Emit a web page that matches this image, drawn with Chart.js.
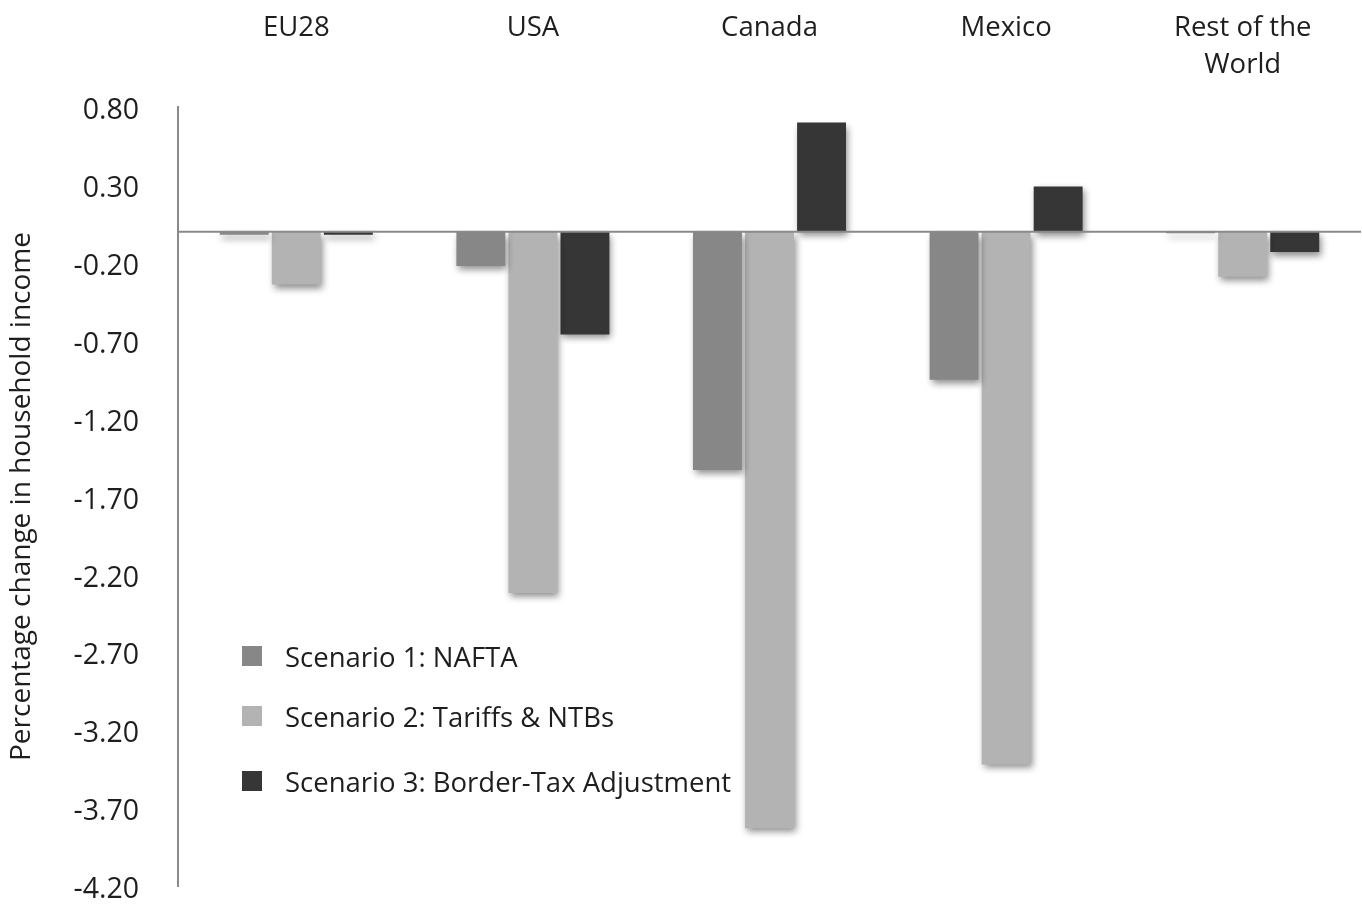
<!DOCTYPE html>
<html lang="en">
<head>
    <meta charset="UTF-8">
    <title>Percentage change in household income</title>
    <script src="https://cdn.jsdelivr.net/npm/chart.js"></script>
    <style>
        body {
            margin: 0;
            background: #fff;
            font-family: 'Open Sans', sans-serif;
        }
        .wrap {
            position: relative;
            width: 1362px;
            height: 904px;
        }
        .legend {
            position: absolute;
            left: 242px;
            top: 636px;
            color: #1e1e1e;
            font-size: 27.5px;
        }
        .legend div {
            display: flex;
            align-items: center;
            height: 40px;
        }
        .legend .row2 { margin-top: 20px; }
        .legend .row3 { margin-top: 25px; }
        .legend span.box {
            display: inline-block;
            width: 20px;
            height: 20px;
            margin-right: 23px;
        }
    </style>
</head>
<body>
    <div class="wrap">
        <canvas id="chart"></canvas>
        <div class="legend" id="legend"></div>
    </div>

    <script>
        const categories = [['EU28', ''], ['USA', ''], ['Canada', ''], ['Mexico', ''], ['Rest of the', 'World']];
        const seriesNames = ['Scenario 1: NAFTA', 'Scenario 2: Tariffs & NTBs', 'Scenario 3: Border-Tax Adjustment'];
        const nafta = [-0.02, -0.22, -1.53, -0.95, -0.01];
        const tariffs = [-0.34, -2.32, -3.83, -3.42, -0.29];
        const borderTax = [-0.02, -0.66, 0.70, 0.29, -0.13];
        const yTicks = [0.8, 0.3, -0.2, -0.7, -1.2, -1.7, -2.2, -2.7, -3.2, -3.7, -4.2];
        const colors = ['#878787', '#b3b3b3', '#363636'];

        // legend as html
        const legendEl = document.getElementById('legend');
        seriesNames.forEach((name, i) => {
            legendEl.innerHTML += `<div class="row${i + 1}"><span class="box" style="background:${colors[i]}"></span>${name.replace('&', '&amp;')}</div>`;
        });

        // soft drop shadow under bars + zero line
        const shadowPlugin = {
            id: 'shadow',
            beforeDatasetDraw(chart) {
                const ctx = chart.ctx;
                ctx.save();
                ctx.shadowColor = 'rgba(0,0,0,0.45)';
                ctx.shadowBlur = 7;
                ctx.shadowOffsetX = 2;
                ctx.shadowOffsetY = 4;
            },
            afterDatasetDraw(chart) {
                chart.ctx.restore();
            },
            afterDatasetsDraw(chart) {
                const ctx = chart.ctx;
                const y0 = chart.scales.y.getPixelForValue(0);
                ctx.save();
                ctx.strokeStyle = '#8a8a8a';
                ctx.lineWidth = 2;
                ctx.beginPath();
                ctx.moveTo(chart.chartArea.left, y0);
                ctx.lineTo(chart.chartArea.right, y0);
                ctx.stroke();
                ctx.restore();
            }
        };

        const family = "'Open Sans', sans-serif";

        new Chart(document.getElementById('chart'), {
            type: 'bar',
            data: {
                labels: categories,
                datasets: [nafta, tariffs, borderTax].map((d, i) => ({
                    label: seriesNames[i],
                    data: d,
                    backgroundColor: colors[i],
                    borderWidth: 0,
                    categoryPercentage: 0.66,
                    barPercentage: 0.94
                }))
            },
            options: {
                responsive: true,
                maintainAspectRatio: false,
                animation: false,
                layout: { padding: { top: 0, right: 1, bottom: 18, left: 0 } },
                plugins: {
                    legend: { display: false },
                    tooltip: { enabled: false }
                },
                scales: {
                    x: {
                        position: 'top',
                        grid: { display: false },
                        border: { display: false },
                        ticks: {
                            color: '#1e1e1e',
                            font: { family: family, size: 27.5, lineHeight: 1.32 },
                            maxRotation: 0,
                            padding: 16
                        },
                        afterFit(scale) { scale.height = 107; }
                    },
                    y: {
                        min: -4.2,
                        max: 0.8,
                        grid: { display: false },
                        border: { display: true, color: '#8a8a8a', width: 2 },
                        afterBuildTicks(scale) {
                            scale.ticks = yTicks.map(v => ({ value: v }));
                        },
                        ticks: {
                            color: '#1e1e1e',
                            font: { family: family, size: 28.5 },
                            padding: 31,
                            labelOffset: 4,
                            callback: v => v.toFixed(2)
                        },
                        title: {
                            display: true,
                            text: 'Percentage change in household income',
                            color: '#1e1e1e',
                            font: { family: family, size: 28 },
                            padding: { top: 5, bottom: 0 }
                        },
                        afterFit(scale) {
                            scale.width = 178;
                            scale.paddingTop = 0;
                            scale.paddingBottom = 0;
                        }
                    }
                }
            },
            plugins: [shadowPlugin]
        });
    </script>
</body>
</html>
